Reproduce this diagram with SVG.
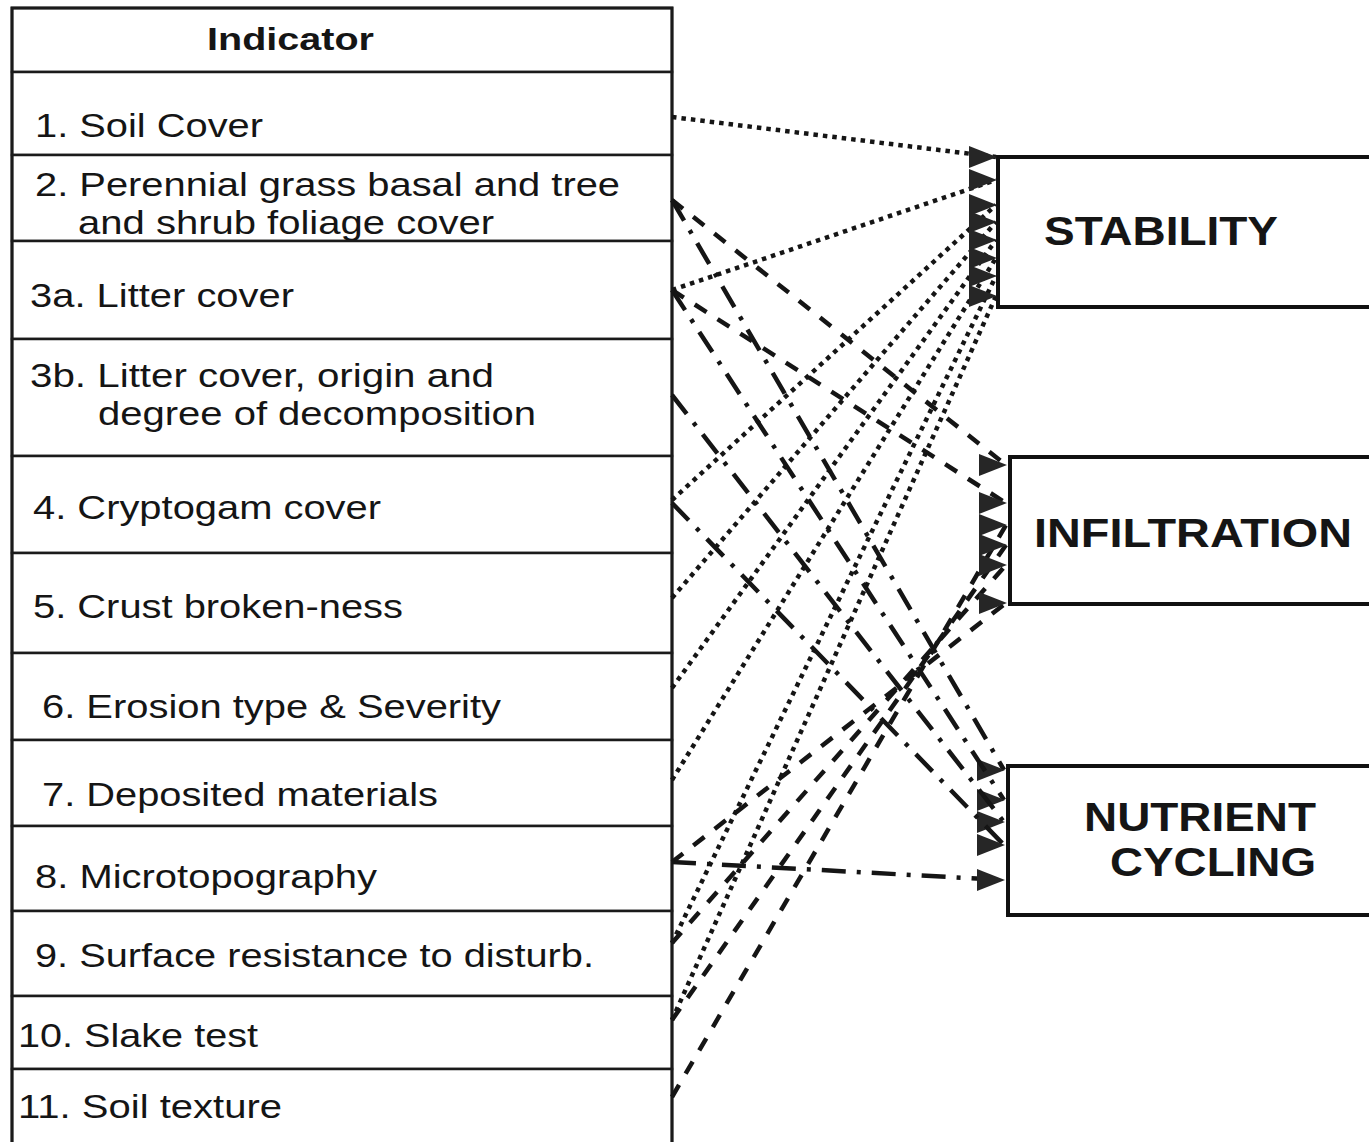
<svg xmlns="http://www.w3.org/2000/svg" width="1369" height="1142" viewBox="0 0 1369 1142">
<defs>
<style>
.row{fill:#fff;stroke:#1a1a1a;stroke-width:2.5}
.outer{fill:none;stroke:#1a1a1a;stroke-width:3}
.t{font-family:"Liberation Sans",Arial,sans-serif;font-size:34px;fill:#151515}
.hb{font-family:"Liberation Sans",Arial,sans-serif;font-size:31px;font-weight:bold;fill:#151515}
.box{fill:#fff;stroke:#111;stroke-width:4}
.bl{font-family:"Liberation Sans",Arial,sans-serif;font-size:41px;font-weight:bold;fill:#151515}
.c{fill:none;stroke:#151515;stroke-width:4.5}
.dot{stroke-dasharray:4.5 5}
.dash{stroke-dasharray:14 13}
.dd{stroke-dasharray:24 11 4 11}
</style>
<marker id="ah" viewBox="0 0 28 22" markerWidth="28" markerHeight="22" markerUnits="userSpaceOnUse" refX="27" refY="11" orient="0">
<path d="M0,0 L28,11 L0,22 z" fill="#262626"/>
</marker>
</defs>
<rect width="1369" height="1142" fill="#fff"/>

<g id="table">
<g id="header"><rect class="row" x="12" y="8" width="660" height="64"/><text class="hb" x="207" y="50" textLength="167" lengthAdjust="spacingAndGlyphs">Indicator</text></g>
<g id="ind1"><rect class="row" x="12" y="72" width="660" height="83"/><text class="t" x="35" y="137" textLength="228" lengthAdjust="spacingAndGlyphs">1. Soil Cover</text></g>
<g id="ind2"><rect class="row" x="12" y="155" width="660" height="86"/><text class="t" x="35" y="196" textLength="585" lengthAdjust="spacingAndGlyphs">2. Perennial grass basal and tree</text><text class="t" x="78" y="234" textLength="416" lengthAdjust="spacingAndGlyphs">and shrub foliage cover</text></g>
<g id="ind3a"><rect class="row" x="12" y="241" width="660" height="98"/><text class="t" x="30" y="307" textLength="264" lengthAdjust="spacingAndGlyphs">3a. Litter cover</text></g>
<g id="ind3b"><rect class="row" x="12" y="339" width="660" height="117"/><text class="t" x="30" y="387" textLength="464" lengthAdjust="spacingAndGlyphs">3b. Litter cover, origin and</text><text class="t" x="98" y="425" textLength="438" lengthAdjust="spacingAndGlyphs">degree of decomposition</text></g>
<g id="ind4"><rect class="row" x="12" y="456" width="660" height="97"/><text class="t" x="33" y="519" textLength="348" lengthAdjust="spacingAndGlyphs">4. Cryptogam cover</text></g>
<g id="ind5"><rect class="row" x="12" y="553" width="660" height="100"/><text class="t" x="33" y="618" textLength="370" lengthAdjust="spacingAndGlyphs">5. Crust broken-ness</text></g>
<g id="ind6"><rect class="row" x="12" y="653" width="660" height="87"/><text class="t" x="42" y="718" textLength="459" lengthAdjust="spacingAndGlyphs">6. Erosion type &amp; Severity</text></g>
<g id="ind7"><rect class="row" x="12" y="740" width="660" height="86"/><text class="t" x="42" y="806" textLength="396" lengthAdjust="spacingAndGlyphs">7. Deposited materials</text></g>
<g id="ind8"><rect class="row" x="12" y="826" width="660" height="85"/><text class="t" x="35" y="888" textLength="342" lengthAdjust="spacingAndGlyphs">8. Microtopography</text></g>
<g id="ind9"><rect class="row" x="12" y="911" width="660" height="85"/><text class="t" x="35" y="967" textLength="559" lengthAdjust="spacingAndGlyphs">9. Surface resistance to disturb.</text></g>
<g id="ind10"><rect class="row" x="12" y="996" width="660" height="73"/><text class="t" x="18" y="1047" textLength="240" lengthAdjust="spacingAndGlyphs">10. Slake test</text></g>
<g id="ind11"><rect class="row" x="12" y="1069" width="660" height="80"/><text class="t" x="18" y="1118" textLength="264" lengthAdjust="spacingAndGlyphs">11. Soil texture</text></g>
<rect class="outer" x="12" y="8" width="660" height="1141"/>
</g>

<g id="stability"><rect class="box" x="998" y="157" width="400" height="150"/><text class="bl" x="1044" y="245" textLength="234" lengthAdjust="spacingAndGlyphs">STABILITY</text></g>
<g id="infiltration"><rect class="box" x="1010" y="457" width="400" height="147"/><text class="bl" x="1034" y="547" textLength="318" lengthAdjust="spacingAndGlyphs">INFILTRATION</text></g>
<g id="nutrient"><rect class="box" x="1008" y="766" width="400" height="149"/><text class="bl" x="1084" y="831" textLength="232" lengthAdjust="spacingAndGlyphs">NUTRIENT</text><text class="bl" x="1110" y="876" textLength="206" lengthAdjust="spacingAndGlyphs">CYCLING</text></g>

<g id="connectors" marker-end="url(#ah)">
<path class="c dot" d="M672,117 L996,157" marker-end="url(#ah)"/>
<path class="c dot" d="M672,290 L996,180" marker-end="url(#ah)"/>
<path class="c dot" d="M672,500 L996,205" marker-end="url(#ah)"/>
<path class="c dot" d="M672,598 L996,222" marker-end="url(#ah)"/>
<path class="c dot" d="M672,688 L996,240" marker-end="url(#ah)"/>
<path class="c dot" d="M672,780 L996,258" marker-end="url(#ah)"/>
<path class="c dot" d="M672,943 L996,276" marker-end="url(#ah)"/>
<path class="c dot" d="M672,1020 L996,296" marker-end="url(#ah)"/>

<path class="c dash" d="M672,200 L1006,465" marker-end="url(#ah)"/>
<path class="c dash" d="M672,290 L1006,503" marker-end="url(#ah)"/>
<path class="c dash" d="M672,1097 L1006,525" marker-end="url(#ah)"/>
<path class="c dash" d="M672,1020 L1006,545" marker-end="url(#ah)"/>
<path class="c dash" d="M672,943 L1006,565" marker-end="url(#ah)"/>
<path class="c dash" d="M672,862 L1006,603" marker-end="url(#ah)"/>

<path class="c dd" d="M672,200 L1004,770" marker-end="url(#ah)"/>
<path class="c dd" d="M672,290 L1004,800" marker-end="url(#ah)"/>
<path class="c dd" d="M672,395 L1004,822" marker-end="url(#ah)"/>
<path class="c dd" d="M672,503 L1004,845" marker-end="url(#ah)"/>
<path class="c dd" d="M672,862 L1004,880" marker-end="url(#ah)"/>
</g>
</svg>
